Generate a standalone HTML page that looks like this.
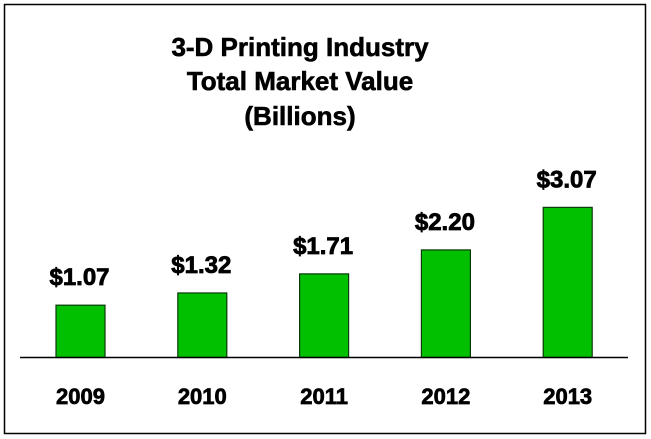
<!DOCTYPE html>
<html><head><meta charset="utf-8"><style>
body{margin:0;background:#fff;}
svg{display:block;font-family:"Liberation Sans",Arial,sans-serif;font-weight:bold;}
</style></head><body>
<svg width="651" height="439">
<rect x="4.5" y="4.5" width="641" height="429" fill="#fff" stroke="#000" stroke-width="1.5"/>
<g font-size="26" text-anchor="middle" stroke="#000" stroke-width="0.6">
<text x="300" y="56">3-D Printing Industry</text>
<text x="300" y="90">Total Market Value</text>
<text x="300" y="125">(Billions)</text>
</g>
<g id="bars"></g>
<line x1="20" y1="357.5" x2="628" y2="357.5" stroke="#000" stroke-width="1.5"/>
</svg>
<script>
const categories=["2009","2010","2011","2012","2013"];
const values=[1.07,1.32,1.71,2.20,3.07];
const labels=["$1.07","$1.32","$1.71","$2.20","$3.07"];
const g=document.getElementById('bars');
const ns="http://www.w3.org/2000/svg";
const base=357.5, k=48.9, x0=80.5, step=121.8, bw=49;
function xc(i){return x0+i*step;}
function yv(v){return base-v*k;}
categories.forEach((c,i)=>{
  const r=document.createElementNS(ns,'rect');
  r.setAttribute('x',xc(i)-bw/2);r.setAttribute('y',yv(values[i]));
  r.setAttribute('width',bw);r.setAttribute('height',base-yv(values[i]));
  r.setAttribute('fill','#00c000');r.setAttribute('stroke','#0a3a0a');r.setAttribute('stroke-width','1.2');
  
  
  g.appendChild(r);
  const t=document.createElementNS(ns,'text');
  t.setAttribute('x',xc(i)-1);t.setAttribute('y',yv(values[i])-20);
  t.setAttribute('text-anchor','middle');t.setAttribute('font-size','24');
  t.setAttribute('stroke','#000');t.setAttribute('stroke-width','0.8');
  t.textContent=labels[i];
  
  
  g.appendChild(t);
  const y=document.createElementNS(ns,'text');
  y.setAttribute('x',xc(i));y.setAttribute('y',404);
  y.setAttribute('text-anchor','middle');y.setAttribute('font-size','22');
  y.setAttribute('stroke','#000');y.setAttribute('stroke-width','0.7');
  y.textContent=c;
  
  
  g.appendChild(y);
});
</script>
</body></html>
